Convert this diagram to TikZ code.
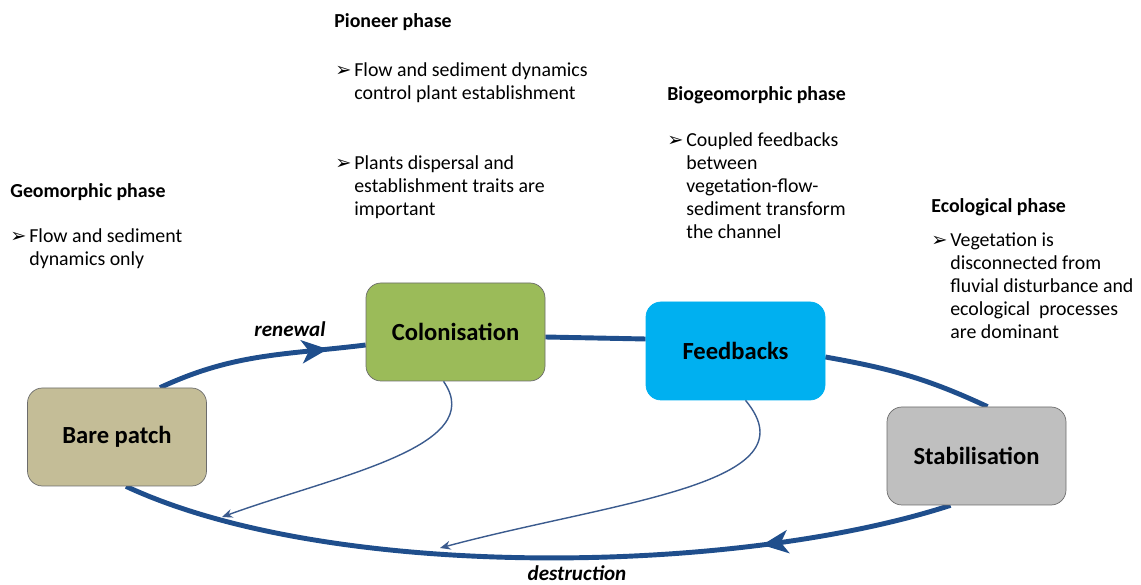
\documentclass[tikz,border=0pt]{standalone}
\usepackage{fontspec}
\setmainfont{Carlito}
\newfontfamily\symfont{DejaVu Sans}
\usetikzlibrary{positioning,arrows.meta,decorations.markings,backgrounds}
\definecolor{cyclblue}{HTML}{1F4E8C}
\definecolor{thinblue}{HTML}{3B5B8E}
\definecolor{barefill}{HTML}{C4BD97}
\definecolor{colfill}{HTML}{9BBB59}
\definecolor{feedfill}{HTML}{00B0F0}
\definecolor{stabfill}{HTML}{BFBFBF}
\newcommand{\bul}[1]{\makebox[0.38cm][l]{\symfont\fontsize{11}{11}\selectfont ➢}\begin{tabular}[t]{@{}l@{}}#1\end{tabular}}

\begin{document}
\begin{tikzpicture}[
  phase/.style={rectangle, rounded corners=0.3cm, draw=gray!85!black, minimum width=3.58cm, minimum height=1.96cm, font=\fontsize{14}{16}\selectfont\bfseries},
  head/.style={anchor=base west, inner sep=0pt, font=\fontsize{11.3}{13}\selectfont\bfseries},
  note/.style={anchor=base west, inner sep=0pt, font=\fontsize{11.3}{13}\selectfont},
  tag/.style={anchor=base, inner sep=0pt, font=\fontsize{12}{14}\selectfont\bfseries\itshape},
  loopline/.style={line width=2.8pt, draw=cyclblue},
  link/.style={line width=0.8pt, draw=thinblue, -{Stealth[length=6pt,width=5pt]}},
  midarrow/.style={postaction={decorate}, decoration={markings, mark=at position #1 with {\arrow[cyclblue]{Stealth[length=0.52cm,width=0.46cm,inset=0.14cm]}}}}
]
\useasboundingbox (0,0) rectangle (22.82,-11.7);

\node[phase, fill=barefill] (bare) at (2.34,-8.74) {Bare patch};
\node[phase, fill=colfill] (colon) at (9.11,-6.64) {Colonisation};
\node[phase, fill=feedfill, draw=feedfill] (feed) at (14.71,-7.02) {Feedbacks};
\node[phase, fill=stabfill] (stab) at (19.53,-9.12) {Stabilisation};

\begin{scope}[on background layer]
\draw[loopline, midarrow=0.82] ([xshift=0.86cm]bare.north) to[out=25,in=187] ([yshift=-0.26cm]colon.west);
\draw[loopline] ([yshift=-0.1cm]colon.east) -- ([yshift=0.24cm]feed.west);
\draw[loopline] ([yshift=-0.12cm]feed.east) to[out=-10,in=155] ([xshift=0.22cm]stab.north);
\draw[loopline, midarrow=0.23] ([xshift=-0.52cm]stab.south) to[out=198,in=-25,looseness=0.7] ([xshift=0.18cm]bare.south);
\end{scope}

\coordinate (tipa) at (4.44,-10.34);
\coordinate (tipb) at (8.80,-10.96);
\draw[link] ([xshift=-0.24cm]colon.south) .. controls +(-55:1.6) and +(20:2.4) .. (tipa);
\draw[link] ([xshift=0.2cm]feed.south) .. controls +(-50:2.2) and +(15:3.6) .. (tipb);

\node[tag] (renew) at (5.80,-6.74) {renewal};
\node[tag] (destr) at (11.54,-11.62) {destruction};

\node[head] (geohead) at (0.20,-3.96) {Geomorphic phase};
\node[note] (geo1) at (0.20,-4.86) {\bul{Flow and sediment\\dynamics only}};
\node[head] (pionhead) at (6.68,-0.56) {Pioneer phase};
\node[note] (pion1) at (6.70,-1.54) {\bul{Flow and sediment dynamics\\control plant establishment}};
\node[note] (pion2) at (6.70,-3.40) {\bul{Plants dispersal and\\establishment traits are\\important}};
\node[head] (biohead) at (13.34,-2.02) {Biogeomorphic phase};
\node[note] (bio1) at (13.34,-2.94) {\bul{Coupled feedbacks\\between\\vegetation-flow-\\sediment transform\\the channel}};
\node[head] (ecohead) at (18.62,-4.26) {Ecological phase};
\node[note] (eco1) at (18.62,-4.94) {\bul{Vegetation is\\disconnected from\\fluvial disturbance and\\ecological\ \ processes\\are dominant}};
\end{tikzpicture}
\end{document}
